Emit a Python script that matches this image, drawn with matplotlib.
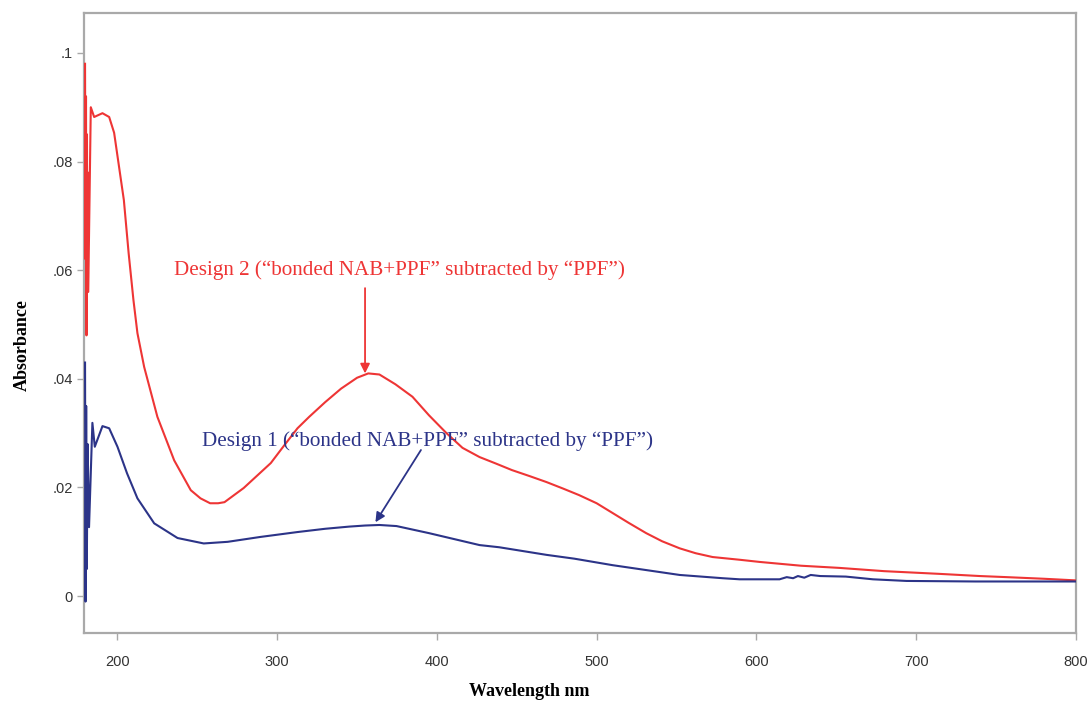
import matplotlib
matplotlib.use("Agg")
import matplotlib.pyplot as plt

# UV-Vis difference spectra (absorbance vs wavelength)
wl_design2 = [179.7, 180.0, 180.3, 180.6, 180.9, 181.1, 181.4, 181.7, 183.3, 185.4,
              190.6, 194.8, 197.9, 201, 204, 207, 210, 212.5, 216.7, 225,
              235.5, 245.9, 252, 258, 263, 267, 279, 296, 304, 312.7,
              320, 330, 340, 350, 357, 364, 374, 384.7, 395, 406,
              416, 426.7, 437, 447, 458, 468.6, 479, 489, 500, 510,
              520, 531, 541, 552, 562, 572.6, 589.5, 602, 628, 652,
              680, 714.7, 740, 756.7, 780, 800]
abs_design2 = [0.098, 0.062, 0.092, 0.048, 0.085, 0.060, 0.078, 0.056, 0.090, 0.0882,
               0.0889, 0.0882, 0.0853, 0.079, 0.0729, 0.0631, 0.0545, 0.0484, 0.0422, 0.033,
               0.025, 0.0195, 0.018, 0.0171, 0.0171, 0.0173, 0.0199, 0.0245, 0.0276, 0.0309,
               0.0330, 0.0357, 0.0382, 0.0402, 0.0410, 0.0408, 0.0390, 0.0367, 0.0333, 0.0300,
               0.0273, 0.0256, 0.0244, 0.0232, 0.0221, 0.0210, 0.0198, 0.0186, 0.0171, 0.0153,
               0.0135, 0.0116, 0.0101, 0.0088, 0.0079, 0.0072, 0.0067, 0.0063, 0.0056, 0.0052,
               0.0046, 0.0041, 0.0037, 0.0035, 0.0032, 0.0029]

wl_design1 = [179.7, 180.0, 180.4, 180.8, 181.3, 182.2, 184.3, 185.8, 190.6, 194.8,
              200, 206, 212.5, 223, 237.6, 254, 269, 289.5, 312.7, 330,
              345, 355, 364, 374.7, 395, 426.7, 439, 468.6, 486, 510,
              545, 552, 579, 589.5, 614.5, 619, 623, 626, 630, 634,
              640, 656, 673, 694, 737, 800]
abs_design1 = [0.043, -0.001, 0.035, 0.005, 0.028, 0.0127, 0.0319, 0.0275, 0.0313, 0.0309,
               0.0275, 0.0226, 0.018, 0.0134, 0.0107, 0.0097, 0.0100, 0.0109, 0.0118, 0.0124,
               0.0128, 0.0130, 0.0131, 0.0129, 0.0116, 0.0094, 0.0090, 0.0076, 0.0069, 0.0057,
               0.0042, 0.0039, 0.0033, 0.0031, 0.0031, 0.0035, 0.0033, 0.0037, 0.0034, 0.0039,
               0.0037, 0.0036, 0.0031, 0.0028, 0.0027, 0.0027]

y_ticks = [0, 0.02, 0.04, 0.06, 0.08, 0.1]
y_tick_labels = ["0", ".02", ".04", ".06", ".08", ".1"]
x_ticks = [200, 300, 400, 500, 600, 700, 800]
x_tick_labels = ["200", "300", "400", "500", "600", "700", "800"]

label_design2 = "Design 2 (\u201cbonded NAB+PPF\u201d subtracted by \u201cPPF\u201d)"
label_design1 = "Design 1 (\u201cbonded NAB+PPF\u201d subtracted by \u201cPPF\u201d)"

red = "#ee3535"
navy = "#2c3488"
frame = "#a9a9a9"

fig = plt.figure(figsize=(10.9, 7.05), dpi=100)
ax = fig.add_axes([0.077, 0.102, 0.910, 0.880])

ax.plot(wl_design2, abs_design2, color=red, lw=1.5, zorder=3)
ax.plot(wl_design1, abs_design1, color=navy, lw=1.5, zorder=3)

ax.set_xlim(179, 800)
ax.set_ylim(-0.0068, 0.1074)

ax.set_xticks(x_ticks)
ax.set_xticklabels(x_tick_labels)
ax.set_yticks(y_ticks)
ax.set_yticklabels(y_tick_labels)
ax.tick_params(direction="out", length=5, width=1, color=frame,
               labelsize=10.5, labelcolor="#333333")
ax.tick_params(axis="x", pad=11)
ax.tick_params(axis="y", pad=3)
for lab in ax.get_xticklabels() + ax.get_yticklabels():
    lab.set_fontfamily("Liberation Sans")

for sp in ax.spines.values():
    sp.set_color(frame)
    sp.set_linewidth(1.6)

serif = "Liberation Serif"
fig.text(22 / 1090, 1 - 345 / 705, "Absorbance", rotation=90, ha="center", va="center",
         fontsize=13, fontweight="bold", family=serif)
fig.text(529 / 1090, 1 - 692 / 705, "Wavelength nm", ha="center", va="center",
         fontsize=13, fontweight="bold", family=serif)

# peak callouts
ax.text(235.7, 0.0600, label_design2, ha="left", va="center",
        color=red, fontsize=15.2, family=serif)
ax.annotate("", xy=(355, 0.0410), xytext=(355, 0.0567),
            arrowprops=dict(arrowstyle="-|>", color=red, lw=1.3, mutation_scale=14,
                            shrinkA=0, shrinkB=0))
ax.text(253, 0.0285, label_design1, ha="left", va="center",
        color=navy, fontsize=15.2, family=serif)
ax.annotate("", xy=(361.5, 0.0136), xytext=(390, 0.0269),
            arrowprops=dict(arrowstyle="-|>", color=navy, lw=1.3, mutation_scale=14,
                            shrinkA=0, shrinkB=0))

fig.savefig("out.png", dpi=100, facecolor="white")
